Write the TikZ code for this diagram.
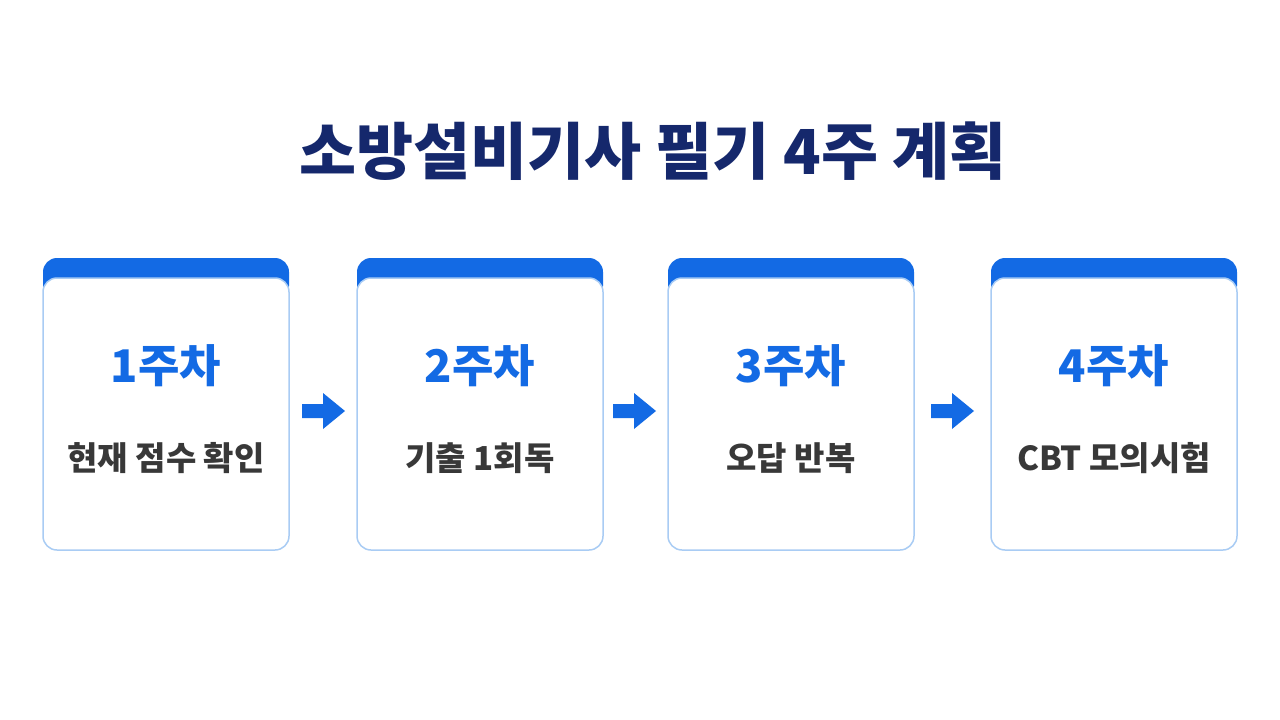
\documentclass[tikz,border=0pt]{standalone}
\usepackage{fontspec}
\setmainfont{Noto Sans CJK KR}
\definecolor{titlenavy}{HTML}{15286C}
\definecolor{weekblue}{HTML}{136AE4}
\definecolor{cardline}{HTML}{A9CCF4}
\definecolor{bodygray}{HTML}{383838}
\tikzset{
	weekarrow/.pic={
		\fill[weekblue] (0,-7) -- (21,-7) -- (21,-18) -- (43,0) -- (21,18) -- (21,7) -- (0,7) -- cycle;
	}
}
\begin{document}
	\begin{tikzpicture}
		[x=1pt,y=-1pt,
		band/.style={fill=weekblue,rounded corners=14pt,minimum width=246pt,minimum height=42pt,inner sep=0pt},
		card/.style={fill=white,draw=cardline,line width=1.5pt,rounded corners=14pt,minimum width=246pt,minimum height=272pt,inner sep=0pt},
		week/.style={text=weekblue,font=\fontsize{45}{50}\selectfont\bfseries},
		task/.style={text=bodygray,font=\fontsize{33}{38}\selectfont\bfseries}]
		\useasboundingbox[fill=white] (0,0) rectangle (1280,720);
		\node[text=titlenavy,font=\fontsize{62}{70}\selectfont\bfseries] (title) at (653,151) {소방설비기사 필기 4주 계획};
		% cards
		\node[band] (band1) at (166,279) {};
		\node[card] (card1) at (166,414) {};
		\node[week] (week1) at (166,366) {1주차};
		\node[task] (task1) at (166,458) {현재 점수 확인};
		\node[band] (band2) at (480,279) {};
		\node[card] (card2) at (480,414) {};
		\node[week] (week2) at (480,366) {2주차};
		\node[task] (task2) at (480,458) {기출 1회독};
		\node[band] (band3) at (791,279) {};
		\node[card] (card3) at (791,414) {};
		\node[week] (week3) at (791,366) {3주차};
		\node[task] (task3) at (791,458) {오답 반복};
		\node[band] (band4) at (1114,279) {};
		\node[card] (card4) at (1114,414) {};
		\node[week] (week4) at (1114,366) {4주차};
		\node[task] (task4) at (1114,458) {CBT 모의시험};
		% arrows
		\pic (arrow1) at (302,411) {weekarrow};
		\pic (arrow2) at (613,411) {weekarrow};
		\pic (arrow3) at (931,411) {weekarrow};
	\end{tikzpicture}
\end{document}
